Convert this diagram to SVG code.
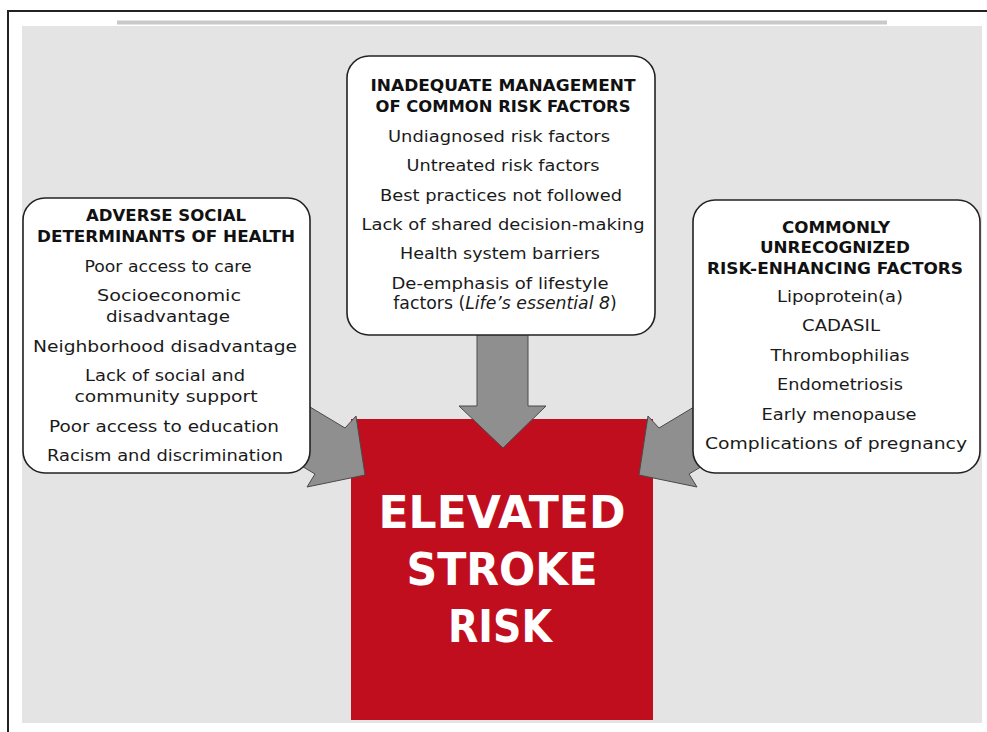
<svg xmlns="http://www.w3.org/2000/svg" width="987" height="732" viewBox="0 0 987 732">
<style>
.box{fill:#ffffff;stroke:#222222;stroke-width:1.6}
.arrow{fill:#8f8f8f;stroke:#4a4a4a;stroke-width:1;stroke-linejoin:miter}
.t{font-family:"DejaVu Sans","Liberation Sans",sans-serif;font-size:16px;fill:#1a1a1a;text-anchor:middle}
.h{font-family:"DejaVu Sans","Liberation Sans",sans-serif;font-size:16px;font-weight:bold;fill:#111111;text-anchor:middle}
.big{font-family:"DejaVu Sans","Liberation Sans",sans-serif;font-size:44px;font-weight:bold;fill:#ffffff;text-anchor:middle}
</style>
<rect x="0" y="0" width="987" height="732" fill="#ffffff"/>
<line x1="7" y1="11" x2="987" y2="11" stroke="#222222" stroke-width="2"/>
<line x1="8" y1="11" x2="8" y2="732" stroke="#222222" stroke-width="2"/>
<rect x="117" y="20.5" width="770" height="4" fill="#c9c9c9"/>
<rect x="22" y="26" width="960" height="697" fill="#e4e4e4"/>

<g id="result">
<rect x="351" y="419" width="302" height="301" fill="#c10e1f"/>
<text class="big" x="502" y="528" textLength="247" lengthAdjust="spacingAndGlyphs">ELEVATED</text>
<text class="big" x="502" y="585" textLength="191" lengthAdjust="spacingAndGlyphs">STROKE</text>
<text class="big" x="500" y="642" textLength="104" lengthAdjust="spacingAndGlyphs">RISK</text>
</g>

<g id="connectors">
<polygon class="arrow" points="477,330 528,330 528,406 546,406 503,448 459,406 477,406"/>
<polygon class="arrow" points="290,395 345,428 356,416 365,475 307,487 315,474 290,459"/>
<polygon class="arrow" points="714,395 659,428 648,416 639,475 697,487 689,474 714,459"/>
</g>

<g id="social">
<rect class="box" x="23" y="198" width="287" height="275" rx="22" ry="22"/>
<text class="h" x="166" y="221" textLength="160" lengthAdjust="spacingAndGlyphs">ADVERSE SOCIAL</text>
<text class="h" x="166" y="242" textLength="258" lengthAdjust="spacingAndGlyphs">DETERMINANTS OF HEALTH</text>
<text class="t" x="168" y="272" textLength="167" lengthAdjust="spacingAndGlyphs">Poor access to care</text>
<text class="t" x="169" y="301" textLength="144" lengthAdjust="spacingAndGlyphs">Socioeconomic</text>
<text class="t" x="168" y="322" textLength="124" lengthAdjust="spacingAndGlyphs">disadvantage</text>
<text class="t" x="165" y="352" textLength="264" lengthAdjust="spacingAndGlyphs">Neighborhood disadvantage</text>
<text class="t" x="165" y="381" textLength="160" lengthAdjust="spacingAndGlyphs">Lack of social and</text>
<text class="t" x="166" y="402" textLength="183" lengthAdjust="spacingAndGlyphs">community support</text>
<text class="t" x="164" y="432" textLength="230" lengthAdjust="spacingAndGlyphs">Poor access to education</text>
<text class="t" x="165" y="461" textLength="236" lengthAdjust="spacingAndGlyphs">Racism and discrimination</text>
</g>

<g id="management">
<rect class="box" x="347" y="56" width="308" height="279" rx="22" ry="22"/>
<text class="h" x="503" y="91" textLength="265" lengthAdjust="spacingAndGlyphs">INADEQUATE MANAGEMENT</text>
<text class="h" x="503" y="112" textLength="255" lengthAdjust="spacingAndGlyphs">OF COMMON RISK FACTORS</text>
<text class="t" x="499" y="142" textLength="222" lengthAdjust="spacingAndGlyphs">Undiagnosed risk factors</text>
<text class="t" x="503" y="171" textLength="193" lengthAdjust="spacingAndGlyphs">Untreated risk factors</text>
<text class="t" x="501" y="201" textLength="242" lengthAdjust="spacingAndGlyphs">Best practices not followed</text>
<text class="t" x="503" y="230" textLength="283" lengthAdjust="spacingAndGlyphs">Lack of shared decision-making</text>
<text class="t" x="500" y="259" textLength="200" lengthAdjust="spacingAndGlyphs">Health system barriers</text>
<text class="t" x="500" y="289" textLength="217" lengthAdjust="spacingAndGlyphs">De-emphasis of lifestyle</text>
<text class="t" x="505" y="309" style="font-size:17.3px">factors (<tspan font-style="italic">Life’s essential 8</tspan>)</text>
</g>

<g id="unrecognized">
<rect class="box" x="693" y="200" width="287" height="273" rx="22" ry="22"/>
<text class="h" x="836" y="233" textLength="108" lengthAdjust="spacingAndGlyphs">COMMONLY</text>
<text class="h" x="835" y="253" textLength="150" lengthAdjust="spacingAndGlyphs">UNRECOGNIZED</text>
<text class="h" x="835" y="274" textLength="256" lengthAdjust="spacingAndGlyphs">RISK-ENHANCING FACTORS</text>
<text class="t" x="840" y="302" textLength="126" lengthAdjust="spacingAndGlyphs">Lipoprotein(a)</text>
<text class="t" x="841" y="331" textLength="78" lengthAdjust="spacingAndGlyphs">CADASIL</text>
<text class="t" x="840" y="361" textLength="139" lengthAdjust="spacingAndGlyphs">Thrombophilias</text>
<text class="t" x="840" y="390" textLength="126" lengthAdjust="spacingAndGlyphs">Endometriosis</text>
<text class="t" x="839" y="420" textLength="155" lengthAdjust="spacingAndGlyphs">Early menopause</text>
<text class="t" x="836" y="449" textLength="262" lengthAdjust="spacingAndGlyphs">Complications of pregnancy</text>
</g>
</svg>
